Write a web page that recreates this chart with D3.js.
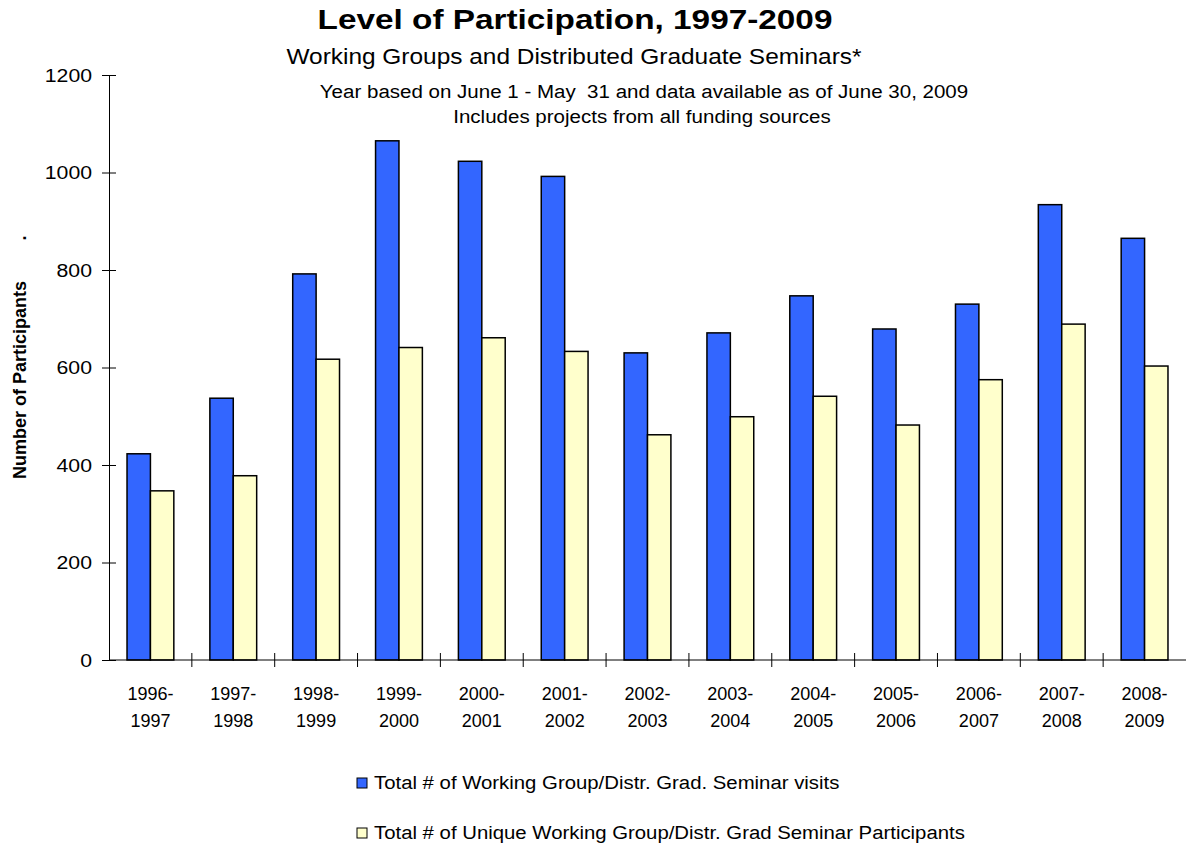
<!DOCTYPE html>
<html>
<head>
<meta charset="utf-8">
<script src="https://cdn.jsdelivr.net/npm/d3@7"></script>
<style>
  body { margin: 0; background: #fff; }
  text { font-family: Arial, "Liberation Sans", sans-serif; fill: #000; }
</style>
</head>
<body>
<div id="stage"></div>
<script>
// chart data
const years = ['1996-1997', '1997-1998', '1998-1999', '1999-2000', '2000-2001', '2001-2002',
               '2002-2003', '2003-2004', '2004-2005', '2005-2006', '2006-2007', '2007-2008', '2008-2009'];
const visits = [423, 537, 792, 1065, 1023, 992, 630, 671, 747, 679, 730, 934, 865];
const uniqueParticipants = [347, 378, 617, 641, 661, 633, 462, 499, 541, 482, 575, 689, 603];
const seriesNames = ['Total # of Working Group/Distr. Grad. Seminar visits',
                     'Total # of Unique Working Group/Distr. Grad Seminar Participants'];
const seriesColors = ['#3366ff', '#ffffcc'];
const yTicks = [0, 200, 400, 600, 800, 1000, 1200];

const width = 1188;
const height = 851;
const plotLeft = 109, plotRight = 1186, plotTop = 75, plotBottom = 660;

const svg = d3.select('#stage')
              .append('svg')
              .attr('width', width)
              .attr('height', height);

// the original text is a little wider than Arial, stretch it sideways
function widen(sel, k) {
  sel.each(function() {
    const w = this.getComputedTextLength();
    d3.select(this).attr('textLength', w * k).attr('lengthAdjust', 'spacingAndGlyphs');
  });
}

const x0 = d3.scaleBand().domain(years).range([plotLeft, plotRight]);
const x1 = d3.scaleBand().domain([0, 1]).range([0, x0.bandwidth()]).paddingOuter(0.77);
const y = d3.scaleLinear().domain([0, 1200]).range([plotBottom, plotTop]);

// titles
svg.append('text').attr('x', 575).attr('y', 29).attr('text-anchor', 'middle')
   .style('font-size', '28px').style('font-weight', 'bold')
   .text('Level of Participation, 1997-2009')
   .call(widen, 1.19);
svg.append('text').attr('x', 574).attr('y', 64).attr('text-anchor', 'middle')
   .style('font-size', '22px')
   .text('Working Groups and Distributed Graduate Seminars*')
   .call(widen, 1.11);
svg.append('text').attr('x', 644).attr('y', 98).attr('text-anchor', 'middle')
   .style('font-size', '18px').style('white-space', 'pre')
   .text('Year based on June 1 - May  31 and data available as of June 30, 2009')
   .call(widen, 1.14);
svg.append('text').attr('x', 642).attr('y', 123).attr('text-anchor', 'middle')
   .style('font-size', '18px')
   .text('Includes projects from all funding sources')
   .call(widen, 1.14);

// bars
const groups = svg.append('g')
  .selectAll('g')
  .data(years)
  .join('g')
  .attr('transform', d => `translate(${x0(d)},0)`);

groups.selectAll('rect')
  .data((d, i) => [visits[i], uniqueParticipants[i]])
  .join('rect')
  .attr('x', (d, i) => x1(i))
  .attr('width', x1.bandwidth())
  .attr('y', d => y(d))
  .attr('height', d => y(0) - y(d))
  .attr('fill', (d, i) => seriesColors[i])
  .attr('stroke', '#000')
  .attr('stroke-width', 1.5);

// y axis
const yAxis = svg.append('g')
  .attr('transform', `translate(${plotLeft},0)`)
  .call(d3.axisLeft(y).tickValues(yTicks).tickFormat(d3.format('d')).tickSize(7).tickPadding(10));
yAxis.select('.domain').attr('stroke', '#000');
yAxis.selectAll('.tick line').attr('x2', -7).attr('x1', 7);
yAxis.selectAll('.tick text').style('font-size', '18px').attr('dy', '0.35em')
  .call(widen, 1.18);

// x axis
const xAxis = svg.append('g')
  .attr('transform', `translate(0,${plotBottom})`);
xAxis.append('line').attr('x1', plotLeft).attr('x2', plotRight).attr('stroke', '#000');
xAxis.selectAll('.sep')
  .data(years.slice(1))
  .join('line')
  .attr('class', 'sep')
  .attr('x1', d => x0(d)).attr('x2', d => x0(d))
  .attr('y1', -7).attr('y2', 7)
  .attr('stroke', '#000');

const xLabels = xAxis.selectAll('.lab')
  .data(years)
  .join('text')
  .attr('class', 'lab')
  .attr('text-anchor', 'middle')
  .attr('transform', d => `translate(${x0(d) + x0.bandwidth() / 2},0)`)
  .style('font-size', '18px');
xLabels.append('tspan').attr('x', 0).attr('y', 40).text(d => d.split('-')[0] + '-');
xLabels.append('tspan').attr('x', 0).attr('y', 67).text(d => d.split('-')[1]);

// y title
svg.append('text')
   .attr('transform', 'translate(26,380) rotate(-90)')
   .attr('text-anchor', 'middle')
   .style('font-size', '18px').style('font-weight', 'bold')
   .text('Number of Participants');
svg.append('text')
   .attr('transform', 'translate(26,238) rotate(-90)')
   .attr('text-anchor', 'middle')
   .style('font-size', '18px').style('font-weight', 'bold')
   .text('.');

// legend
const legend = svg.append('g')
  .selectAll('g')
  .data(seriesNames)
  .join('g')
  .attr('transform', (d, i) => `translate(357,${783 + i * 50})`);
legend.append('rect')
  .attr('x', 0).attr('y', -5).attr('width', 10).attr('height', 10)
  .attr('fill', (d, i) => seriesColors[i])
  .attr('stroke', '#000');
legend.append('text')
  .attr('x', 17).attr('y', 0).attr('dy', '0.35em')
  .style('font-size', '18px')
  .text(d => d)
  .call(widen, 1.13);
</script>
</body>
</html>
